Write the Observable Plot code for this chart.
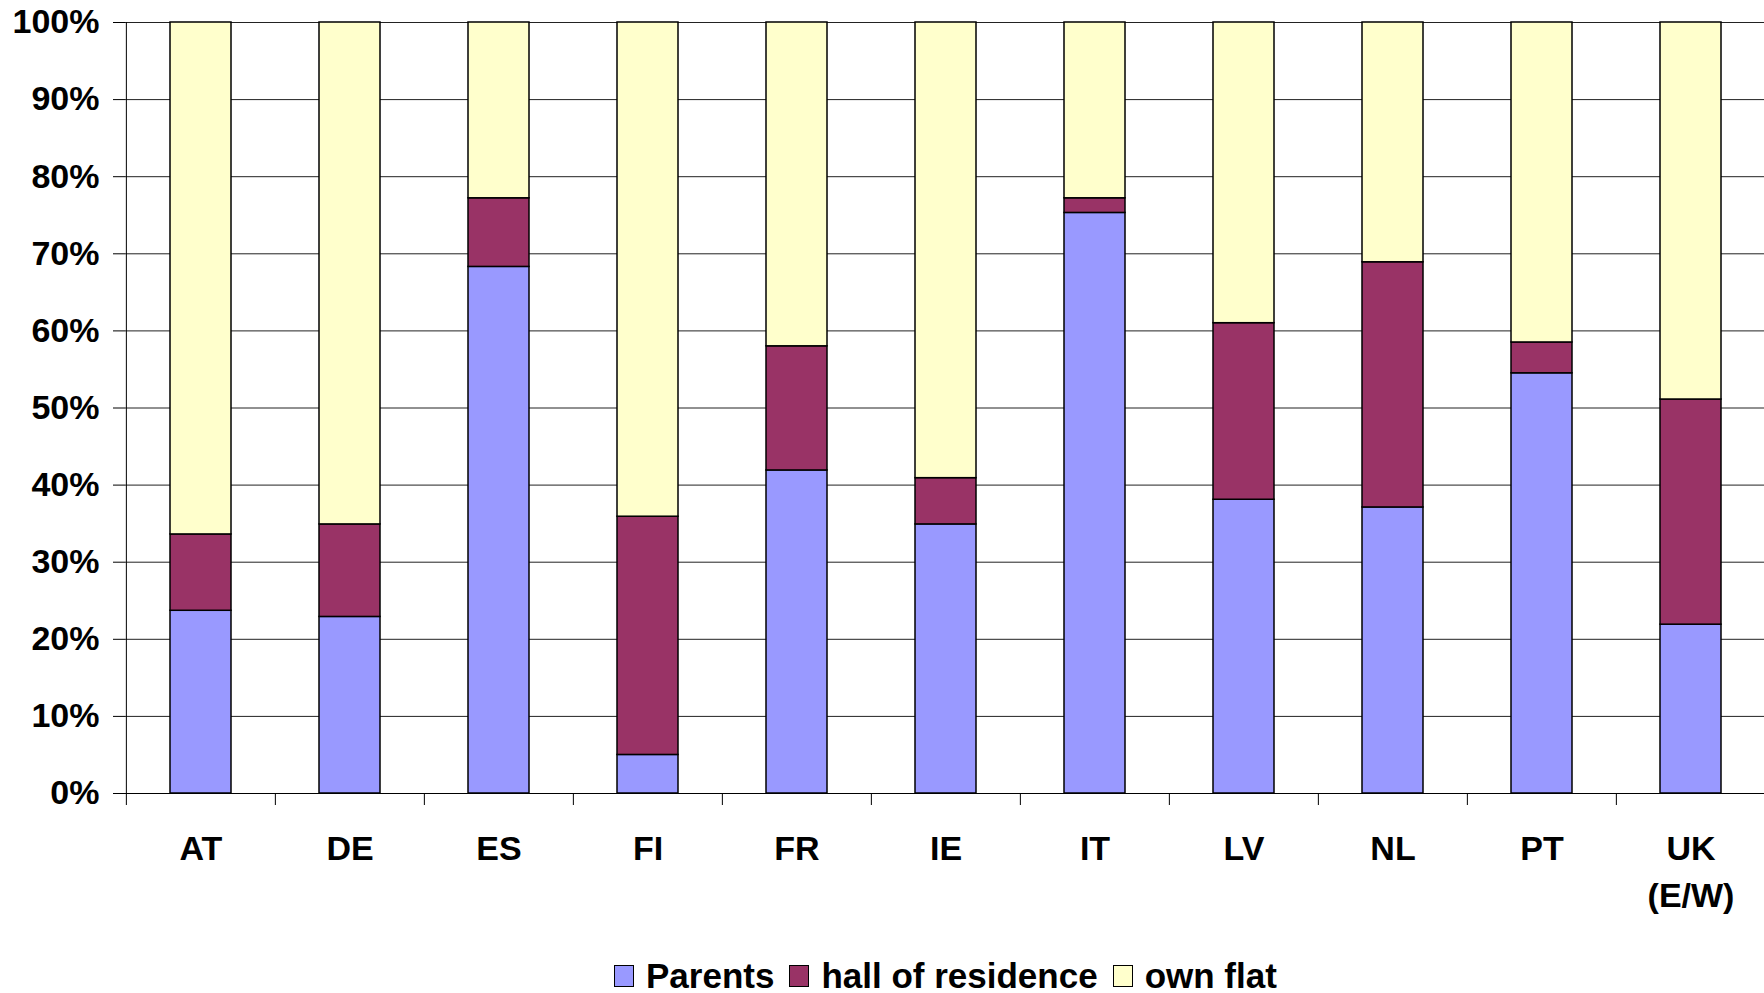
<!DOCTYPE html>
<html>
<head>
<meta charset="utf-8">
<script src="https://cdn.jsdelivr.net/npm/d3@7"></script>
<script src="https://cdn.jsdelivr.net/npm/@observablehq/plot@0.6"></script>
<style>
  html, body { margin: 0; padding: 0; background: #fff; }
  body { width: 1764px; height: 993px; position: relative; overflow: hidden; font-family: "Liberation Sans", Arial, sans-serif; }
  #chart { position: absolute; left: 0; top: 0; }
  #legend { position: absolute; left: 614px; top: 956px; height: 40px; display: flex; align-items: center; font-size: 35px; font-weight: bold; color: #000; white-space: nowrap; }
  .sw { width: 20px; height: 22px; border: 1px solid #000; box-sizing: border-box; margin-right: 12px; }
  .lbl { margin-right: 15px; }
</style>
</head>
<body>
<div id="chart"></div>
<div id="legend"></div>
<script>
const categories = ["AT", "DE", "ES", "FI", "FR", "IE", "IT", "LV", "NL", "PT", "UK (E/W)"];
const tickLabels = ["AT", "DE", "ES", "FI", "FR", "IE", "IT", "LV", "NL", "PT", "UK\n(E/W)"];
const seriesNames = ["Parents", "hall of residence", "own flat"];
const seriesColors = ["#9999FF", "#993366", "#FFFFCC"];
const parents = [23.7, 22.9, 68.3, 5.0, 41.9, 34.9, 75.3, 38.1, 37.1, 54.5, 21.9];
const hallOfResidence = [9.9, 12.0, 8.9, 30.9, 16.1, 6.0, 1.9, 22.9, 31.8, 4.0, 29.2];
const ownFlat = [66.4, 65.1, 22.8, 64.1, 42.0, 59.1, 22.8, 39.0, 31.1, 41.5, 48.9];
const yTicks = [0, 10, 20, 30, 40, 50, 60, 70, 80, 90, 100];

const seriesValues = [parents, hallOfResidence, ownFlat];
const rows = [];
categories.forEach((c, i) => {
  seriesNames.forEach((s, j) => rows.push({country: c, series: s, value: seriesValues[j][i]}));
});

const W = 1764, H = 935, mL = 125, mR = -3, mT = 22, mB = 142;
const step = (W - mL - mR) / categories.length;
const labelOf = new Map(categories.map((c, i) => [c, tickLabels[i]]));
const font = {fontSize: 34, fontWeight: "bold"};

const chart = Plot.plot({
  width: W, height: H,
  marginLeft: mL, marginRight: mR, marginTop: mT, marginBottom: mB,
  style: {fontFamily: "'Liberation Sans', Arial, sans-serif", background: "#fff", color: "#000", overflow: "hidden"},
  x: {domain: categories, paddingInner: 0.59, paddingOuter: 0.295, axis: null},
  y: {domain: [0, 100], axis: null},
  color: {domain: seriesNames, range: seriesColors},
  marks: [
    Plot.gridY(yTicks, {stroke: "#222", strokeOpacity: 1, strokeWidth: 1}),
    Plot.axisY(yTicks, {tickSize: 12, tickPadding: 14, tickFormat: d => d + "%", stroke: "#000", label: null, ...font}),
    Plot.barY(rows, {x: "country", y: "value", fill: "series", stroke: "#000", strokeWidth: 1.5}),
    Plot.ruleY([0], {stroke: "#000", strokeWidth: 1}),
    Plot.ruleX([categories[0]], {y1: 0, y2: 100, dx: -step / 2, stroke: "#000", strokeWidth: 1}),
    Plot.axisX(categories, {tickSize: 12, tickFormat: () => "", dx: -step / 2, stroke: "#000", label: null}),
    Plot.axisX(categories, {tickSize: 0, tickPadding: 33, tickFormat: c => labelOf.get(c), lineHeight: 1.38, label: null, ...font})
  ]
});
document.getElementById("chart").appendChild(chart);

const legend = document.getElementById("legend");
seriesNames.forEach((s, i) => {
  const sw = document.createElement("div");
  sw.className = "sw";
  sw.style.background = seriesColors[i];
  const t = document.createElement("span");
  t.className = "lbl";
  t.textContent = s;
  legend.appendChild(sw);
  legend.appendChild(t);
});
</script>
</body>
</html>
